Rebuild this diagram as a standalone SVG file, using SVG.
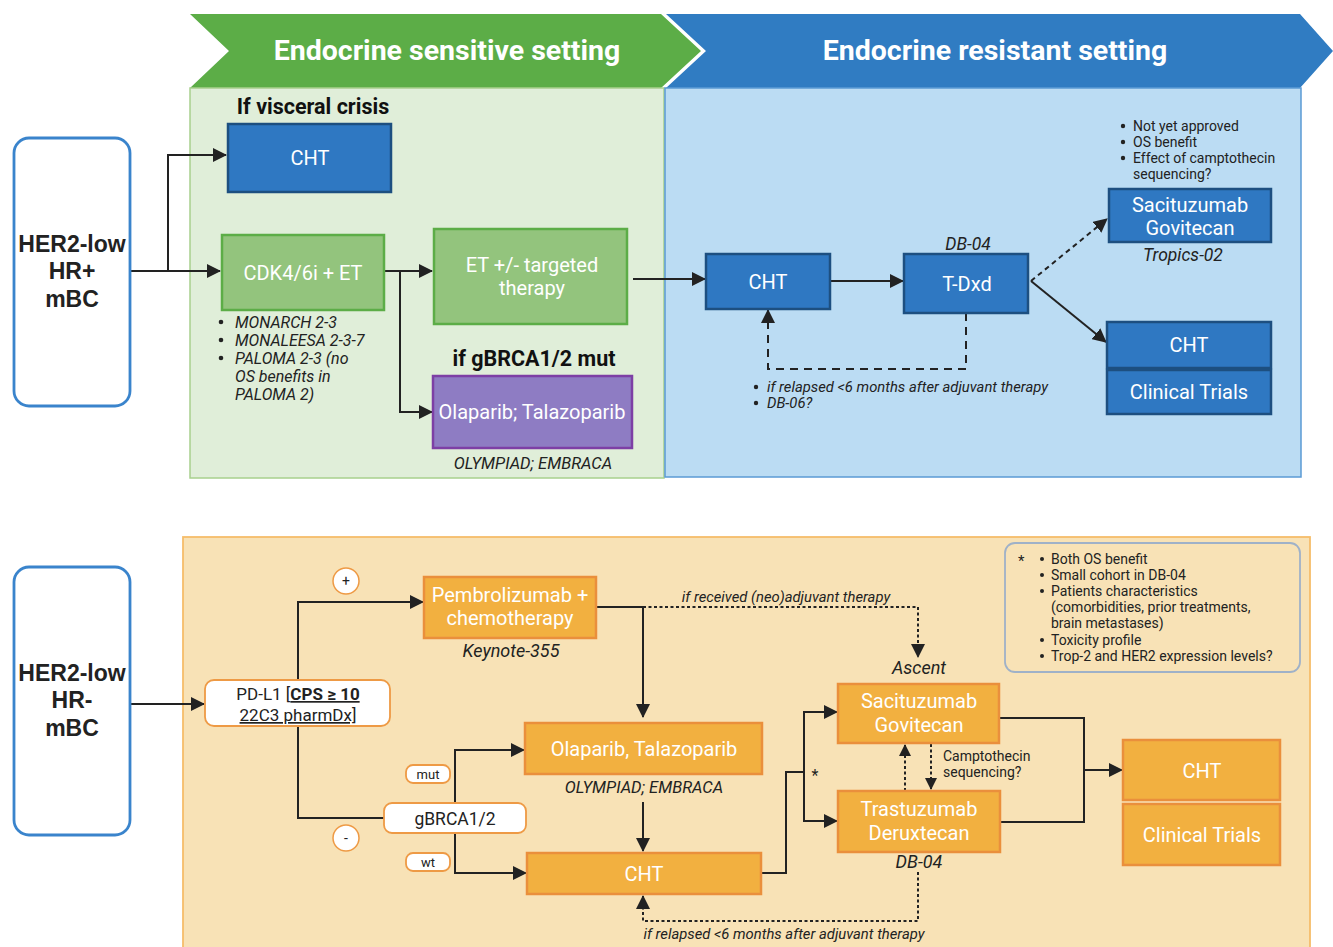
<svg xmlns="http://www.w3.org/2000/svg" width="1333" height="947" viewBox="0 0 1333 947">
<defs>
<marker id="ah" markerUnits="userSpaceOnUse" markerWidth="14" markerHeight="14" refX="13" refY="7" orient="auto"><path d="M0,0 L14,7 L0,14 z" fill="#222"/></marker>
<marker id="ahs" markerUnits="userSpaceOnUse" markerWidth="12" markerHeight="12" refX="11" refY="6" orient="auto"><path d="M0,0 L12,6 L0,12 z" fill="#222"/></marker>
<style>
text{font-family:Roboto,"Liberation Sans",sans-serif}
.hdr{font-weight:bold;font-size:28.5px;fill:#fff;text-anchor:middle}
.ttl{font-family:"Liberation Sans",Arial,sans-serif;font-weight:bold;font-size:23px;fill:#222;text-anchor:middle}
.bt{font-size:20px;fill:#fff;text-anchor:middle}
.bold{font-weight:bold;font-size:21.5px;fill:#111;text-anchor:middle}
.it{font-style:italic;fill:#222}
.sm{font-size:14px;fill:#222}
.ln{fill:none;stroke:#222;stroke-width:2}
.db{fill:#2f78c2;stroke:#1d4f80;stroke-width:2.5}
.gb{fill:#93c47d;stroke:#5cad47;stroke-width:2.5}
.ob{fill:#f2b040;stroke:#ea8f3c;stroke-width:2.5}
.pill{fill:#fff;stroke:#ee9a45;stroke-width:1.8}
.her{fill:#fff;stroke:#3a84cc;stroke-width:2.8}
</style>
</defs>
<rect width="1333" height="947" fill="#fff"/>

<g id="banner-resistant">
<polygon points="666,14 1300,14 1333,51 1300,88 666,88 706,51" fill="#307cc2"/>
<text class="hdr" x="995" y="60">Endocrine resistant setting</text>
</g>
<g id="banner-sensitive">
<polygon points="190,14 661,14 701,51 661,88 190,88 229,51" fill="#5cad47"/>
<text class="hdr" x="447" y="60">Endocrine sensitive setting</text>
</g>
<g id="panel-sensitive"><rect x="190" y="88" width="474" height="390" fill="#e0eed9" stroke="#a8d08d" stroke-width="1.5"/></g>
<g id="panel-resistant"><rect x="665" y="88" width="636" height="389" fill="#bbdcf3" stroke="#5b9bd5" stroke-width="1.5"/></g>
<g id="panel-tnbc"><rect x="183" y="537" width="1127" height="420" fill="#f8e2b6" stroke="#f5bd6a" stroke-width="1.8"/></g>

<g id="connectors">
<polyline class="ln" points="130,271 168,271 168,155 226,155" marker-end="url(#ah)"/>
<polyline class="ln" points="168,271 220,271" marker-end="url(#ah)"/>
<polyline class="ln" points="384,271 432,271" marker-end="url(#ah)"/>
<polyline class="ln" points="400,271 400,412 432,412" marker-end="url(#ah)"/>
<polyline class="ln" points="633,279 705,279" marker-end="url(#ah)"/>
<polyline class="ln" points="830,281 903,281" marker-end="url(#ah)"/>
<polyline class="ln" points="1031,281 1107,219" stroke-dasharray="5 4" marker-end="url(#ah)"/>
<polyline class="ln" points="1031,281 1106,342" marker-end="url(#ah)"/>
<polyline class="ln" points="966,313 966,369 768,369 768,310" stroke-width="3.2" stroke-dasharray="8 6" marker-end="url(#ah)"/>
<polyline class="ln" points="130,704 204,704" marker-end="url(#ah)"/>
<polyline class="ln" points="298,680 298,602 423,602" marker-end="url(#ah)"/>
<polyline class="ln" points="298,726 298,818 384,818"/>
<polyline class="ln" points="596,607 643,607 643,717" marker-end="url(#ah)"/>
<polyline class="ln" points="643,607 918,607 918,657" stroke-width="1.5" stroke-dasharray="3 2.5" marker-end="url(#ah)"/>
<polyline class="ln" points="455,803 455,750 524,750" marker-end="url(#ah)"/>
<polyline class="ln" points="455,833 455,873 526,873" marker-end="url(#ah)"/>
<polyline class="ln" points="643,802 643,851" marker-end="url(#ah)"/>
<polyline class="ln" points="761,873 786,873 786,772 804,772"/>
<polyline class="ln" points="804,772 804,712 837,712" marker-end="url(#ah)"/>
<polyline class="ln" points="804,772 804,821 837,821" marker-end="url(#ah)"/>
<polyline class="ln" points="905,791 905,745" stroke-width="1.5" stroke-dasharray="3 2.5" marker-end="url(#ahs)"/>
<polyline class="ln" points="931,744 931,789" stroke-width="1.5" stroke-dasharray="3 2.5" marker-end="url(#ahs)"/>
<polyline class="ln" points="999,718 1084,718 1084,822 1000,822"/>
<polyline class="ln" points="1084,770 1122,770" marker-end="url(#ah)"/>
<polyline class="ln" points="918,872 918,921 643,921 643,896" stroke-width="1.5" stroke-dasharray="3 2.5" marker-end="url(#ah)"/>
</g>

<g id="her2-hrpos">
<rect class="her" x="14" y="138" width="116" height="268" rx="15"/>
<text class="ttl" x="72" y="252">HER2-low</text>
<text class="ttl" x="72" y="279">HR+</text>
<text class="ttl" x="72" y="307">mBC</text>
</g>
<g id="label-visceral"><text class="bold" x="313" y="114">If visceral crisis</text></g>
<g id="cht-visceral">
<rect class="db" x="228" y="124" width="163" height="68"/>
<text class="bt" x="310" y="165">CHT</text>
</g>
<g id="cdk">
<rect class="gb" x="222" y="235" width="162" height="75"/>
<text class="bt" x="303" y="280">CDK4/6i + ET</text>
</g>
<g id="cdk-trials" class="it" font-size="16">
<circle cx="221" cy="322" r="2.3" fill="#222"/><text x="235" y="328">MONARCH 2-3</text>
<circle cx="221" cy="340" r="2.3" fill="#222"/><text x="235" y="346">MONALEESA 2-3-7</text>
<circle cx="221" cy="358" r="2.3" fill="#222"/><text x="235" y="364">PALOMA 2-3 (no</text>
<text x="235" y="382">OS benefits in</text>
<text x="235" y="400">PALOMA 2)</text>
</g>
<g id="et">
<rect class="gb" x="434" y="229" width="193" height="95"/>
<text class="bt" x="532" y="272">ET +/- targeted</text>
<text class="bt" x="532" y="295">therapy</text>
</g>
<g id="label-gbrca"><text class="bold" x="534" y="366">if gBRCA1/2 mut</text></g>
<g id="parp-top">
<rect x="433" y="376" width="199" height="72" fill="#8e7cc3" stroke="#7d3fa5" stroke-width="2.5"/>
<text class="bt" x="532" y="419">Olaparib; Talazoparib</text>
<text class="it" x="533" y="469" font-size="16.5" text-anchor="middle">OLYMPIAD; EMBRACA</text>
</g>
<g id="cht-resistant">
<rect class="db" x="706" y="254" width="124" height="55"/>
<text class="bt" x="768" y="289">CHT</text>
</g>
<g id="tdxd">
<text class="it" x="968" y="250" font-size="17.5" text-anchor="middle">DB-04</text>
<rect class="db" x="904" y="254" width="124" height="59"/>
<text class="bt" x="967" y="291">T-Dxd</text>
</g>
<g id="sg-top">
<rect class="db" x="1109" y="189" width="162" height="53"/>
<text class="bt" x="1190" y="212">Sacituzumab</text>
<text class="bt" x="1190" y="235">Govitecan</text>
<text class="it" x="1183" y="261" font-size="17.5" text-anchor="middle">Tropics-02</text>
</g>
<g id="sg-notes" class="sm">
<circle cx="1123" cy="126" r="2.2" fill="#222"/><text x="1133" y="131">Not yet approved</text>
<circle cx="1123" cy="142" r="2.2" fill="#222"/><text x="1133" y="147">OS benefit</text>
<circle cx="1123" cy="158" r="2.2" fill="#222"/><text x="1133" y="163">Effect of camptothecin</text>
<text x="1133" y="179">sequencing?</text>
</g>
<g id="cht-ct-top">
<rect class="db" x="1107" y="322" width="164" height="46"/>
<text class="bt" x="1189" y="352">CHT</text>
<rect class="db" x="1107" y="370" width="164" height="44"/>
<text class="bt" x="1189" y="399">Clinical Trials</text>
</g>
<g id="relapse-notes" class="it" font-size="14.8">
<circle cx="756" cy="387" r="2.2" fill="#222"/><text x="767" y="392">if relapsed &lt;6 months after adjuvant therapy</text>
<circle cx="756" cy="403" r="2.2" fill="#222"/><text x="767" y="408">DB-06?</text>
</g>

<g id="her2-hrneg">
<rect class="her" x="14" y="567" width="116" height="268" rx="15"/>
<text class="ttl" x="72" y="681">HER2-low</text>
<text class="ttl" x="72" y="708">HR-</text>
<text class="ttl" x="72" y="736">mBC</text>
</g>
<g id="pdl1">
<rect class="pill" x="205" y="680" width="185" height="46" rx="9"/>
<text x="298" y="700" font-size="17" fill="#222" text-anchor="middle">PD-L1 [<tspan font-weight="bold" text-decoration="underline">CPS ≥ 10</tspan></text>
<text x="298" y="721" font-size="17" fill="#222" text-anchor="middle" text-decoration="underline">22C3 pharmDx]</text>
</g>
<g id="plus"><circle cx="346" cy="581" r="13" fill="#fff" stroke="#ee9a45" stroke-width="1.5"/><text x="346" y="586" font-size="14" fill="#222" text-anchor="middle">+</text></g>
<g id="minus"><circle cx="346" cy="838" r="13" fill="#fff" stroke="#ee9a45" stroke-width="1.5"/><text x="346" y="843" font-size="14" fill="#222" text-anchor="middle">-</text></g>
<g id="pembro">
<rect class="ob" x="424" y="577" width="172" height="61"/>
<text class="bt" x="510" y="602">Pembrolizumab +</text>
<text class="bt" x="510" y="625">chemotherapy</text>
<text class="it" x="511" y="657" font-size="18" text-anchor="middle">Keynote-355</text>
</g>
<g id="label-neo"><text class="it" x="786" y="602" font-size="14.8" text-anchor="middle">if received (neo)adjuvant therapy</text></g>
<g id="gbrca">
<rect class="pill" x="384" y="803" width="142" height="30" rx="8"/>
<text x="455" y="825" font-size="17.5" fill="#222" text-anchor="middle">gBRCA1/2</text>
</g>
<g id="mut"><rect class="pill" x="406" y="765" width="44" height="18" rx="7"/><text x="428" y="779" font-size="13" fill="#222" text-anchor="middle">mut</text></g>
<g id="wt"><rect class="pill" x="406" y="853" width="44" height="18" rx="7"/><text x="428" y="867" font-size="13" fill="#222" text-anchor="middle">wt</text></g>
<g id="parp-bottom">
<rect class="ob" x="525" y="723" width="237" height="51"/>
<text class="bt" x="644" y="756">Olaparib, Talazoparib</text>
<text class="it" x="644" y="793" font-size="16.5" text-anchor="middle">OLYMPIAD; EMBRACA</text>
</g>
<g id="cht-bottom">
<rect class="ob" x="527" y="853" width="234" height="41"/>
<text class="bt" x="644" y="881">CHT</text>
</g>
<g id="star"><text x="815" y="781" font-size="16" fill="#222" text-anchor="middle">*</text></g>
<g id="sg-bottom">
<text class="it" x="919" y="674" font-size="18" text-anchor="middle">Ascent</text>
<rect class="ob" x="838" y="684" width="161" height="59"/>
<text class="bt" x="919" y="708">Sacituzumab</text>
<text class="bt" x="919" y="732">Govitecan</text>
</g>
<g id="campto-label" class="sm" font-size="13.5">
<text x="943" y="761">Camptothecin</text>
<text x="943" y="777">sequencing?</text>
</g>
<g id="tdxd-bottom">
<rect class="ob" x="838" y="791" width="162" height="61"/>
<text class="bt" x="919" y="816">Trastuzumab</text>
<text class="bt" x="919" y="840">Deruxtecan</text>
<text class="it" x="919" y="868" font-size="18" text-anchor="middle">DB-04</text>
</g>
<g id="cht-ct-bottom">
<rect class="ob" x="1123" y="740" width="157" height="60"/>
<text class="bt" x="1202" y="778">CHT</text>
<rect class="ob" x="1123" y="804" width="157" height="61"/>
<text class="bt" x="1202" y="842">Clinical Trials</text>
</g>
<g id="label-relapse-bottom"><text class="it" x="784" y="939" font-size="14.8" text-anchor="middle">if relapsed &lt;6 months after adjuvant therapy</text></g>
<g id="legend" class="sm" font-size="13.5">
<rect x="1005" y="543" width="295" height="129" rx="10" fill="none" stroke="#9fb1c8" stroke-width="1.8"/>
<text x="1018" y="566" font-size="15">*</text>
<circle cx="1042" cy="559" r="2" fill="#222"/><text x="1051" y="564">Both OS benefit</text>
<circle cx="1042" cy="575" r="2" fill="#222"/><text x="1051" y="580">Small cohort in DB-04</text>
<circle cx="1042" cy="591" r="2" fill="#222"/><text x="1051" y="596">Patients characteristics</text>
<text x="1051" y="612">(comorbidities, prior treatments,</text>
<text x="1051" y="628">brain metastases)</text>
<circle cx="1042" cy="640" r="2" fill="#222"/><text x="1051" y="645">Toxicity profile</text>
<circle cx="1042" cy="656" r="2" fill="#222"/><text x="1051" y="661">Trop-2 and HER2 expression levels?</text>
</g>
</svg>
